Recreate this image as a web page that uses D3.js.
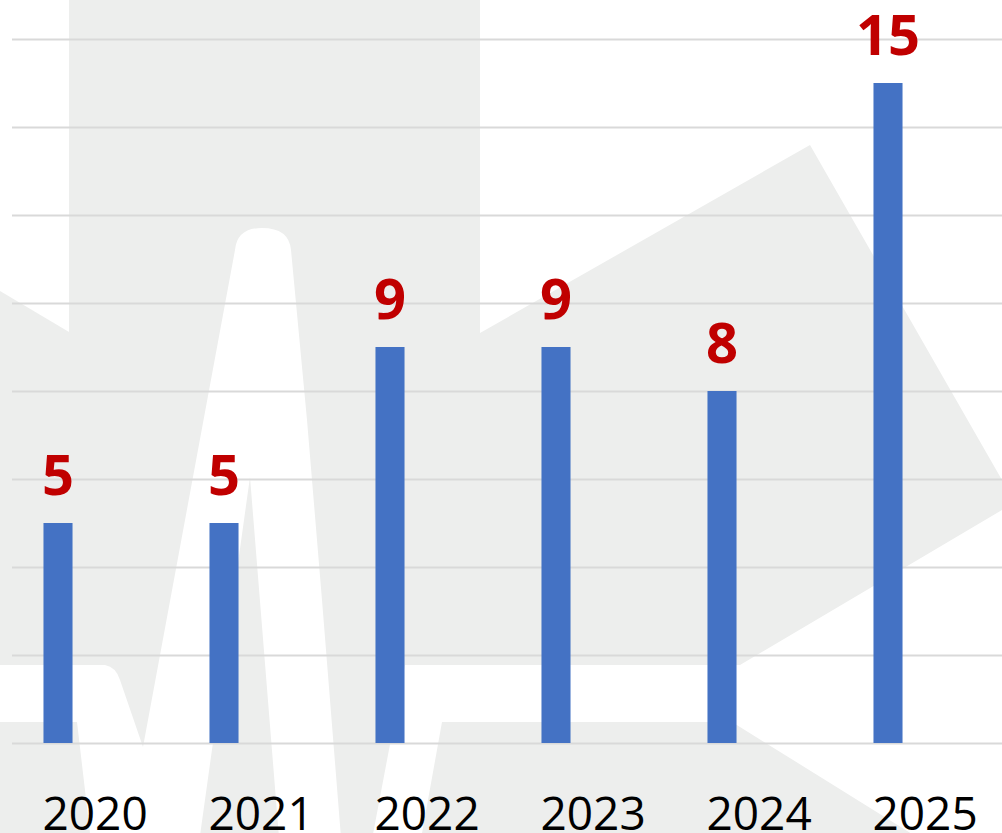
<!DOCTYPE html>
<html>
<head>
<meta charset="utf-8">
<script src="https://cdn.jsdelivr.net/npm/d3@7"></script>
<style>
  body { margin: 0; background: #fff; }
  svg { display: block; }
</style>
</head>
<body>
<script>
var width  = 1002
var height = 833

// chart data
var years  = ['2020', '2021', '2022', '2023', '2024', '2025']
var counts = [5, 5, 9, 9, 8, 15]
var yTicks = [0, 2, 4, 6, 8, 10, 12, 14, 16]

var svg = d3.select('body')
	.append('svg')
	.attr('width', width)
	.attr('height', height)

// faint watermark behind the plot (grey field with white cut-outs)
var bg = svg.append('g')
bg.append('rect')
	.attr('width', width)
	.attr('height', height)
	.attr('fill', '#edeeed')

var holes = [
	'M0,0 L69,0 L69,332 L0,291 Z',
	'M480,0 L1002,0 L1002,480 L810,145 L480,333 Z',
	'M370,850 L405,665 L740,665 L1002,510 L1002,890 L732,722 L442,722 L419,850 Z',
	'M0,665 L105,665 Q116,667 120,680 L143,747 L235,250 Q237,228 262,228 Q289,228 291,250 ' +
	'L307,420 L322,600 L342,850 L280,850 L250,477 L198,850 L92,850 L77,722 L0,722 Z'
]
bg.selectAll('path')
	.data(holes)
	.enter()
	.append('path')
	.attr('d', d => d)
	.attr('fill', '#fff')

var x = d3.scaleBand()
	.domain(years)
	.range([-25, 971])
	.paddingInner(0.825)
	.paddingOuter(0.4125)

var y = d3.scaleLinear()
	.domain([0, 16])
	.range([743, 39])

// gridlines
var grid = svg.append('g')
	.attr('transform', 'translate(12,0)')
	.call(d3.axisRight(y).tickValues(yTicks).tickSize(width - 12).tickFormat(''))
grid.select('.domain').remove()
grid.selectAll('.tick line')
	.attr('stroke', '#d9d9d9')
	.attr('stroke-width', 2)

// bars
svg.selectAll('rect.bar')
	.data(counts)
	.enter()
	.append('rect')
	.attr('class', 'bar')
	.attr('x', (d, i) => x(years[i]))
	.attr('y', d => y(d))
	.attr('width', x.bandwidth())
	.attr('height', d => y(0) - y(d))
	.attr('fill', '#4472c4')

// value labels
svg.selectAll('text.val')
	.data(counts)
	.enter()
	.append('text')
	.attr('class', 'val')
	.attr('x', (d, i) => x(years[i]) + x.bandwidth() / 2)
	.attr('y', d => y(d) - 28)
	.attr('text-anchor', 'middle')
	.attr('font-family', '"Open Sans", sans-serif')
	.attr('font-weight', 'bold')
	.attr('font-size', 56)
	.attr('fill', '#c00000')
	.text(d => d)

// year labels
var xAxis = svg.append('g')
	.attr('transform', 'translate(0,' + 830 + ')')
	.call(d3.axisBottom(x).tickSize(0).tickPadding(0))
xAxis.select('.domain').remove()
xAxis.selectAll('text')
	.attr('x', -x.bandwidth() / 2 - 1)
	.attr('dy', 0)
	.attr('text-anchor', 'start')
	.attr('font-family', '"Open Sans", sans-serif')
	.attr('font-size', 46)
	.attr('fill', '#000')
</script>
</body>
</html>
